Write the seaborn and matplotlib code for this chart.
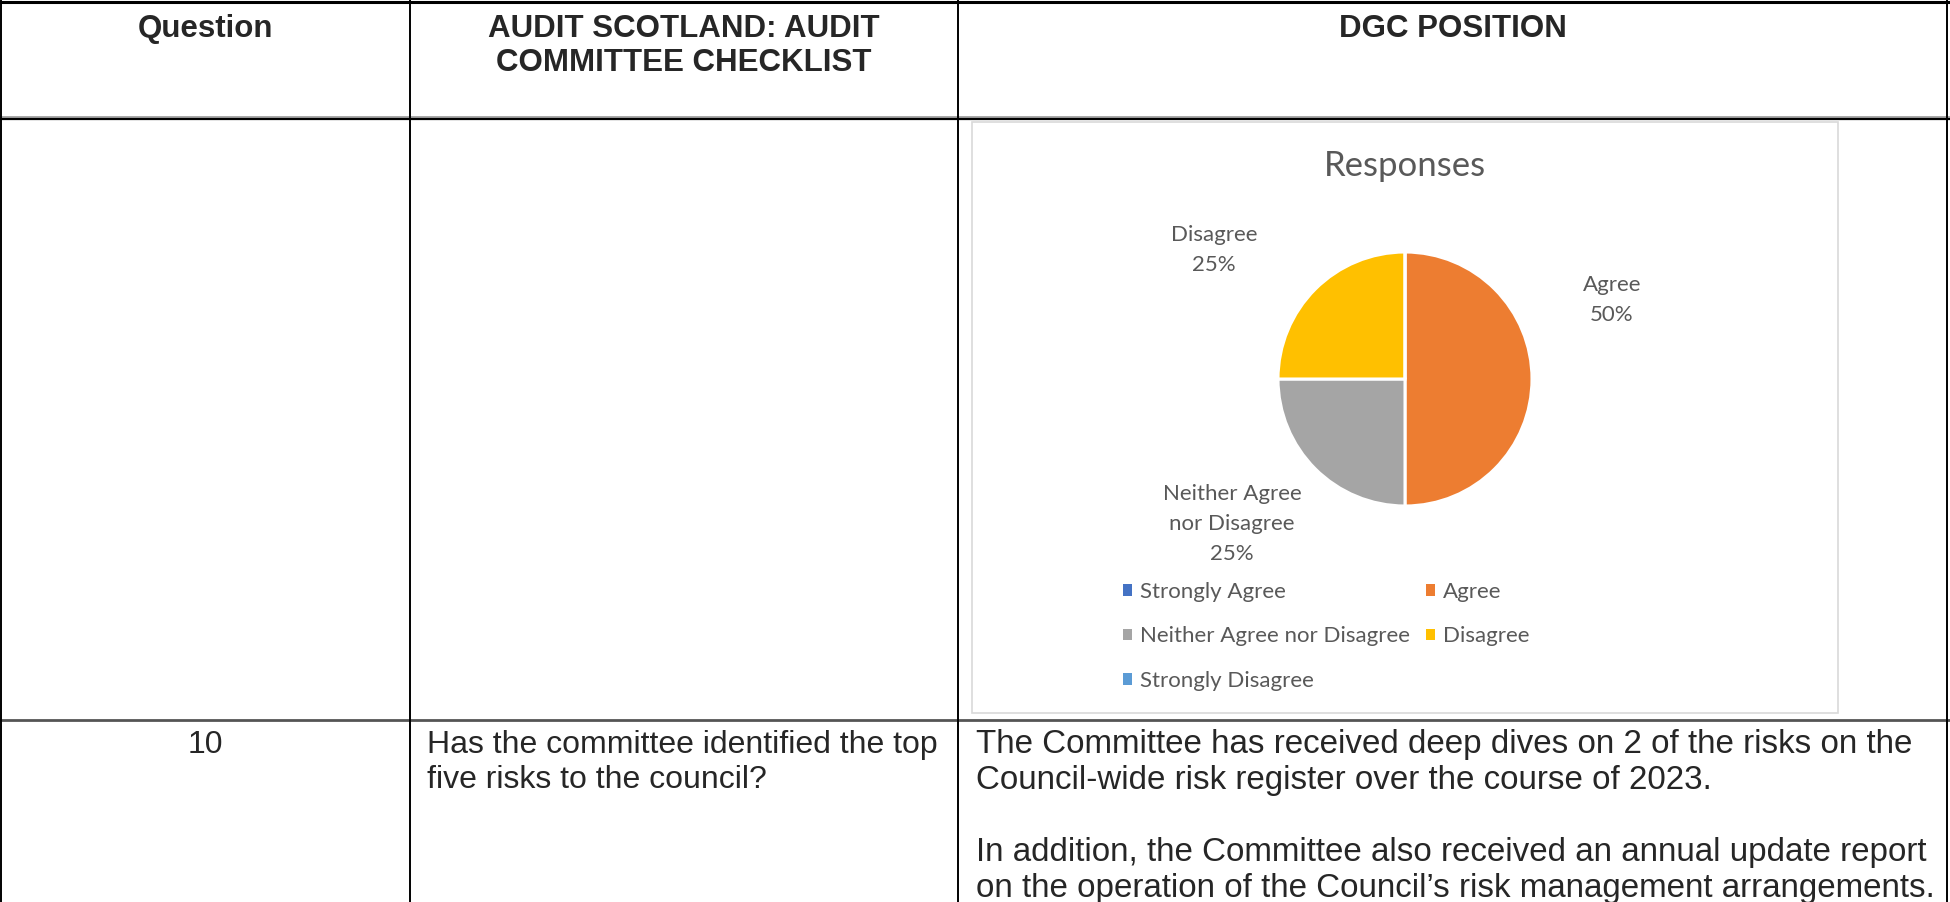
import textwrap

import matplotlib
matplotlib.use("Agg")
import matplotlib.pyplot as plt
from matplotlib.patches import Patch, Rectangle
import seaborn as sns

# pie data (counts of responses)
categories = ["Strongly Agree", "Agree", "Neither Agree nor Disagree", "Disagree", "Strongly Disagree"]
responses = [0, 2, 1, 1, 0]
palette = ["#4472C4", "#ED7D31", "#A5A5A5", "#FFC000", "#5B9BD5"]
chart_title = "Responses"

# table text
header = ["Question", "AUDIT SCOTLAND: AUDIT\nCOMMITTEE CHECKLIST", "DGC POSITION"]
question_no = "10"
question_text = ["Has the committee identified the top", "five risks to the council?"]
position_text = [
    "The Committee has received deep dives on 2 of the risks on the",
    "Council-wide risk register over the course of 2023.",
    "In addition, the Committee also received an annual update report",
    "on the operation of the Council\u2019s risk management arrangements.",
]

sns.set_theme(style="white")
plt.rcParams["font.family"] = ["Liberation Sans", "DejaVu Sans"]

W, H = 1950, 902
fig = plt.figure(figsize=(W / 100, H / 100), dpi=100)

# ---- table layer (pixel coords, y down) ----
ax = fig.add_axes([0, 0, 1, 1])
ax.set_xlim(0, W)
ax.set_ylim(H, 0)
ax.axis("off")

col_x = [1, 410, 958, 1947]
ax.plot([0, W], [2, 2], color="black", lw=2.2)
ax.plot([0, W], [117, 117], color="#9a9a9a", lw=1.2)
ax.plot([0, W], [119, 119], color="black", lw=1.6)
ax.plot([0, W], [720, 720], color="#555555", lw=2.0)
for x in col_x:
    ax.plot([x, x], [0, H], color="black", lw=1.4)

centers = [(col_x[i] + col_x[i + 1]) / 2 for i in range(3)]
for cx, txt in zip(centers, header):
    ax.text(cx, 14, txt, ha="center", va="top", fontsize=22.5,
            fontweight="bold", linespacing=1.17)

ax.text(centers[0], 745, question_no, ha="center", va="center", fontsize=23)
for i, line in enumerate(question_text):
    ax.text(427, 745 + 35 * i, line, ha="left", va="center", fontsize=23)
pos_y = [745, 780, 853, 888]
for y, line in zip(pos_y, position_text):
    ax.text(976, y, line, ha="left", va="center", fontsize=23.9)

# chart frame
ax.add_patch(Rectangle((972, 122), 866, 591, fill=False, ec="#d9d9d9", lw=1.2))

# ---- pie layer (pixel coords, y up) ----
ax2 = fig.add_axes([0, 0, 1, 1])
ax2.set_facecolor("none")
cx, cy, r = 1405, H - 379, 127
wedges, _ = ax2.pie(responses, colors=palette, startangle=90, counterclock=False,
                    center=(cx, cy), radius=r, frame=True,
                    wedgeprops=dict(edgecolor="white", linewidth=2.2))
ax2.set_xlim(0, W)
ax2.set_ylim(0, H)
ax2.set_aspect("auto")
ax2.axis("off")

chart_font = ["Lato", "DejaVu Sans"]
grey = "#595959"
ax2.text(cx, H - 166, chart_title, ha="center", va="center", fontsize=25,
         color=grey, family=chart_font)

total = sum(responses)
label_offset = {"Agree": (207, 79), "Disagree": (-191, 129),
                "Neither Agree nor Disagree": (-173, -145)}
for name, val in zip(categories, responses):
    if val == 0:
        continue
    dx, dy = label_offset[name]
    label = textwrap.fill(name, 13) + f"\n{val / total:.0%}"
    ax2.text(cx + dx, cy + dy, label, ha="center", va="center", fontsize=16,
             color=grey, family=chart_font, linespacing=1.6)

handles = {c: Patch(facecolor=col, edgecolor="none") for c, col in zip(categories, palette)}
order = ["Strongly Agree", "Neither Agree nor Disagree", "Strongly Disagree", "Agree", "Disagree"]
leg = ax2.legend([handles[o] for o in order], order, ncol=2, frameon=False,
                 loc="upper left", bbox_to_anchor=(1123 / W, 1 - 582 / H),
                 bbox_transform=fig.transFigure, borderaxespad=0, borderpad=0,
                 handlelength=0.42, handleheight=0.42, handletextpad=0.35,
                 columnspacing=0.7, labelspacing=1.1,
                 prop={"family": chart_font, "size": 16})
for t in leg.get_texts():
    t.set_color(grey)

fig.savefig("out.png", dpi=100)
